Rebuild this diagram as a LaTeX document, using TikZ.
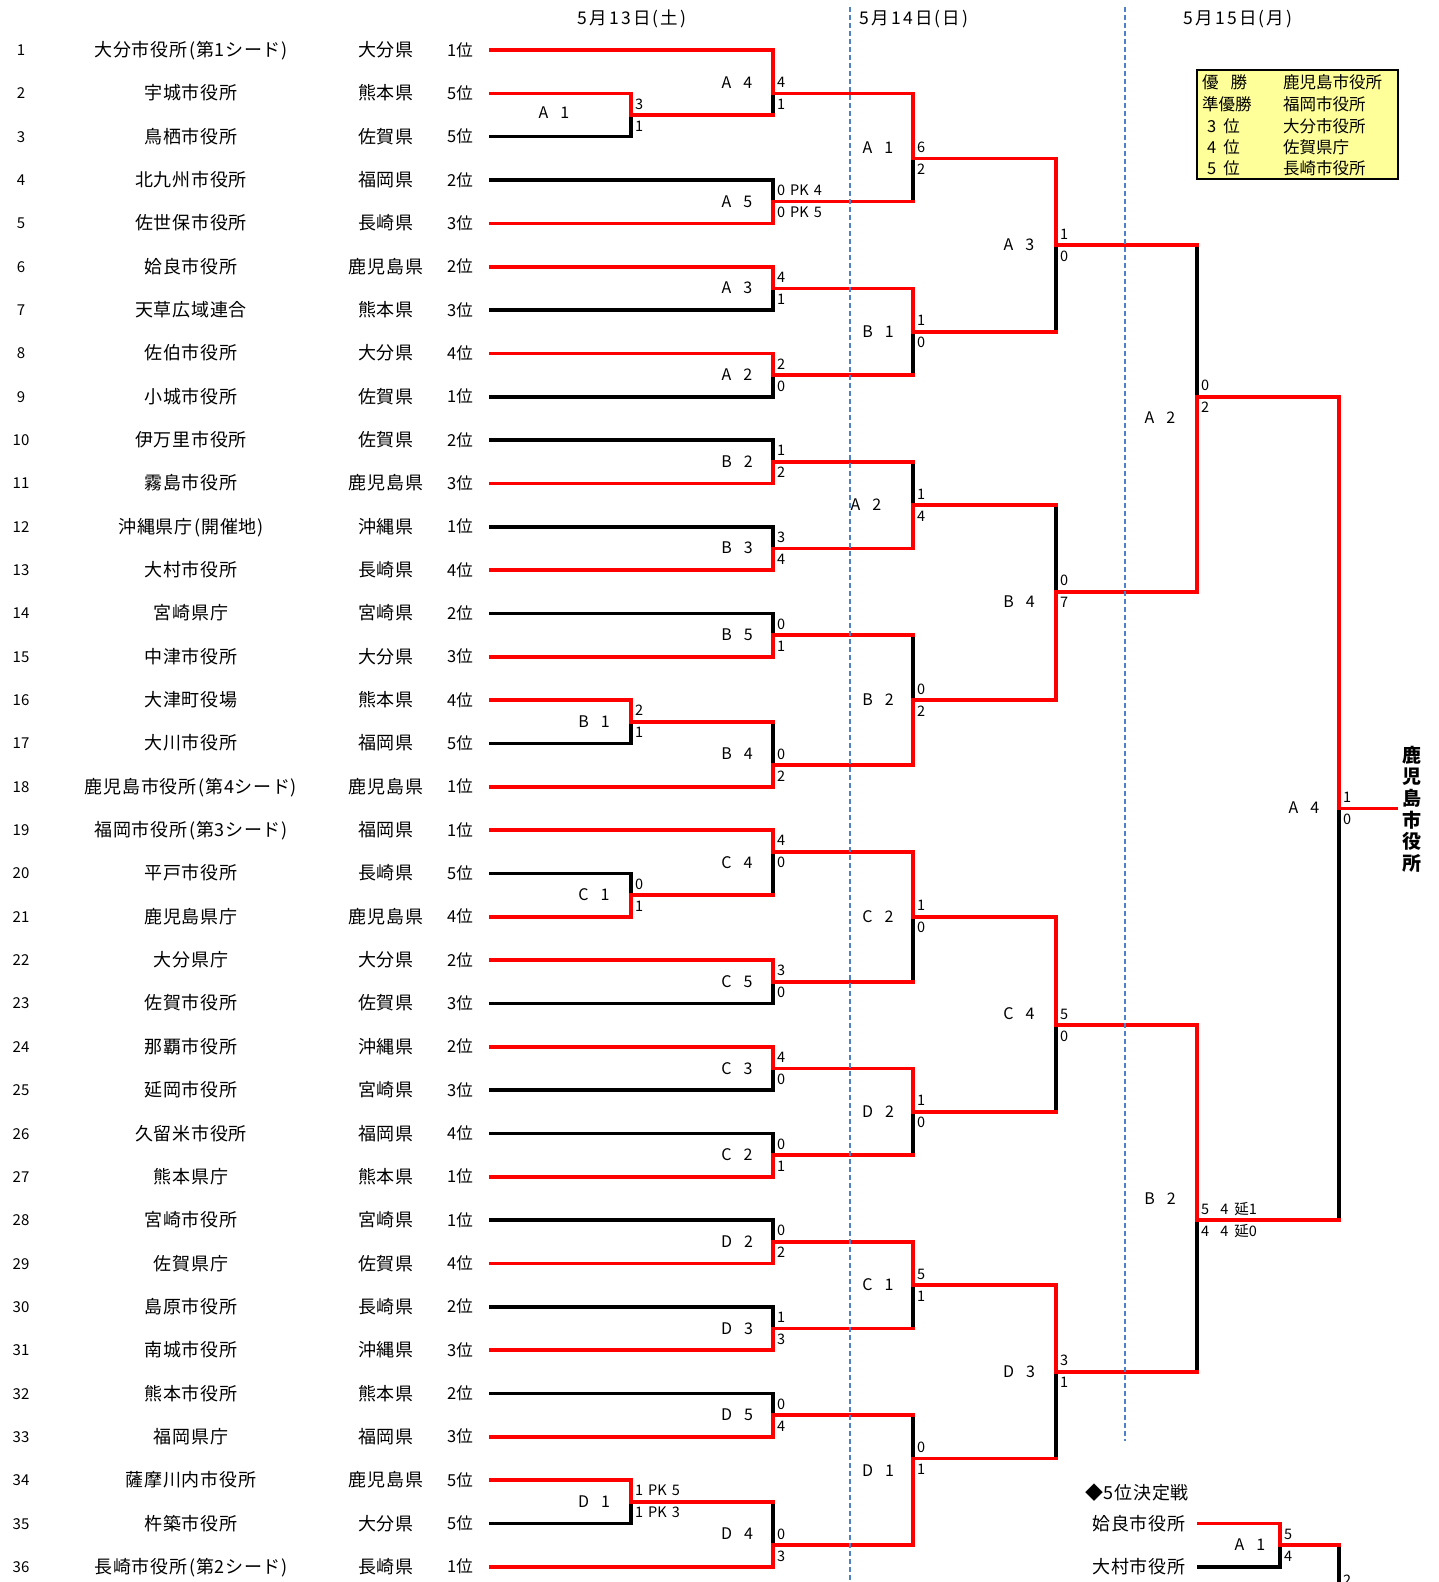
\documentclass[tikz,border=0pt]{standalone}
\usepackage{fontspec}
\setmainfont{Noto Sans CJK JP}
\newfontfamily\namefont{Noto Sans CJK JP}[LetterSpace=4]
\newfontfamily\datefont{Noto Sans CJK JP}[LetterSpace=12]
\definecolor{bred}{RGB}{255,0,0}
\definecolor{dblue}{RGB}{79,129,199}
\definecolor{lyel}{RGB}{255,255,153}
\pgfdeclarelayer{blk}
\pgfdeclarelayer{rd}
\pgfdeclarelayer{dsh}
\pgfsetlayers{blk,rd,dsh,main}
\pgfmathdeclarefunction{ry}{1}{\pgfmathparse{50+(#1-1)*43.34}}
\newcommand{\po}{\hspace{2pt}(}
\newcommand{\pc}{)\hspace{2pt}}
\tikzset{
  blkline/.style={line width=3.6pt, black, line cap=rect},
  redline/.style={line width=3.6pt, bred, line cap=rect},
  sc/.style={anchor=base west, inner sep=0pt, font=\fontsize{14.5}{14.5}\selectfont},
  lbl/.style={anchor=base, inner sep=0pt, font=\fontsize{16}{16}\selectfont},
  nm/.style={anchor=base, inner sep=0pt, font=\namefont\fontsize{18}{18}\selectfont},
  numtxt/.style={anchor=base, inner sep=0pt, font=\fontsize{15}{15}\selectfont},
  rk/.style={anchor=base west, inner sep=0pt, font=\fontsize{16.5}{16.5}\selectfont},
  datetxt/.style={anchor=base, inner sep=0pt, font=\datefont\fontsize{17.5}{17.5}\selectfont},
  lgd/.style={anchor=base west, inner sep=0pt, font=\fontsize{16.5}{16.5}\selectfont},
  dashln/.style={dblue, line width=1.8pt, dash pattern=on 5pt off 3pt},
}
% #1 x, #2 rTop, #3 rBot, #4 rOut, #5 winner (1 top, 2 bottom), #6 next x, #7 top score, #8 bottom score
\newcommand{\bkmatch}[8]{%
  \pgfmathsetmacro\yT{ry(#2)}\pgfmathsetmacro\yB{ry(#3)}\pgfmathsetmacro\yO{ry(#4)}%
  \ifnum#5=1
    \begin{pgfonlayer}{rd}\draw[redline] (#1,\yT) -- (#1,\yO);\end{pgfonlayer}%
    \begin{pgfonlayer}{blk}\draw[blkline] (#1,\yO) -- (#1,\yB);\end{pgfonlayer}%
  \else
    \begin{pgfonlayer}{blk}\draw[blkline] (#1,\yT) -- (#1,\yO);\end{pgfonlayer}%
    \begin{pgfonlayer}{rd}\draw[redline] (#1,\yO) -- (#1,\yB);\end{pgfonlayer}%
  \fi
  \begin{pgfonlayer}{rd}\draw[redline] (#1,\yO) -- (#6,\yO);\end{pgfonlayer}%
  \node[sc] at ({#1+4},{\yO-6}) {#7};%
  \node[sc] at ({#1+4},{\yO+16}) {#8};%
}
% #1 row, #2 name, #3 pref, #4 rank, #5 end x, #6 colour 1 red 0 black
\newcommand{\bkentry}[6]{%
  \pgfmathsetmacro\yE{ry(#1)}%
  \ifnum#6=1
    \begin{pgfonlayer}{rd}\draw[redline] (491,\yE) -- (#5,\yE);\end{pgfonlayer}%
  \else
    \begin{pgfonlayer}{blk}\draw[blkline] (491,\yE) -- (#5,\yE);\end{pgfonlayer}%
  \fi
  \node[numtxt] at (21,{\yE+5.5}) {#1};%
  \node[nm] at (191,{\yE+6.5}) {#2};%
  \node[nm] at (386,{\yE+6.5}) {#3};%
  \node[rk] at (447,{\yE+6}) {#4};%
}
% #1 x centre, #2 r, #3 letter, #4 digit
\newcommand{\bklab}[4]{%
  \pgfmathsetmacro\yL{ry(#2)}%
  \node[lbl] at (#1,{\yL+5.5}) {#3\hspace{12pt}#4};%
}
\begin{document}
\begin{tikzpicture}[x=1pt,y=-1pt]
\useasboundingbox (0,0) rectangle (1439,1582);

% dates
\node[datetxt] (d13) at (632,24.5) {5月13日\po 土\pc};
\node[datetxt] (d14) at (914,24.5) {5月14日\po 日\pc};
\node[datetxt] (d15) at (1238,24.5) {5月15日\po 月\pc};

% day separators
\begin{pgfonlayer}{dsh}
\draw[dashln] (850,7) -- (850,1590);
\draw[dashln] (1125,7) -- (1125,1441);
\end{pgfonlayer}

% entries
\bkentry{1}{大分市役所\po 第1シード\pc}{大分県}{1位}{773}{1}
\bkentry{2}{宇城市役所}{熊本県}{5位}{631}{1}
\bkentry{3}{鳥栖市役所}{佐賀県}{5位}{631}{0}
\bkentry{4}{北九州市役所}{福岡県}{2位}{773}{0}
\bkentry{5}{佐世保市役所}{長崎県}{3位}{773}{1}
\bkentry{6}{姶良市役所}{鹿児島県}{2位}{773}{1}
\bkentry{7}{天草広域連合}{熊本県}{3位}{773}{0}
\bkentry{8}{佐伯市役所}{大分県}{4位}{773}{1}
\bkentry{9}{小城市役所}{佐賀県}{1位}{773}{0}
\bkentry{10}{伊万里市役所}{佐賀県}{2位}{773}{0}
\bkentry{11}{霧島市役所}{鹿児島県}{3位}{773}{1}
\bkentry{12}{沖縄県庁\po 開催地\pc}{沖縄県}{1位}{773}{0}
\bkentry{13}{大村市役所}{長崎県}{4位}{773}{1}
\bkentry{14}{宮崎県庁}{宮崎県}{2位}{773}{0}
\bkentry{15}{中津市役所}{大分県}{3位}{773}{1}
\bkentry{16}{大津町役場}{熊本県}{4位}{631}{1}
\bkentry{17}{大川市役所}{福岡県}{5位}{631}{0}
\bkentry{18}{鹿児島市役所\po 第4シード\pc}{鹿児島県}{1位}{773}{1}
\bkentry{19}{福岡市役所\po 第3シード\pc}{福岡県}{1位}{773}{1}
\bkentry{20}{平戸市役所}{長崎県}{5位}{631}{0}
\bkentry{21}{鹿児島県庁}{鹿児島県}{4位}{631}{1}
\bkentry{22}{大分県庁}{大分県}{2位}{773}{1}
\bkentry{23}{佐賀市役所}{佐賀県}{3位}{773}{0}
\bkentry{24}{那覇市役所}{沖縄県}{2位}{773}{1}
\bkentry{25}{延岡市役所}{宮崎県}{3位}{773}{0}
\bkentry{26}{久留米市役所}{福岡県}{4位}{773}{0}
\bkentry{27}{熊本県庁}{熊本県}{1位}{773}{1}
\bkentry{28}{宮崎市役所}{宮崎県}{1位}{773}{0}
\bkentry{29}{佐賀県庁}{佐賀県}{4位}{773}{1}
\bkentry{30}{島原市役所}{長崎県}{2位}{773}{0}
\bkentry{31}{南城市役所}{沖縄県}{3位}{773}{1}
\bkentry{32}{熊本市役所}{熊本県}{2位}{773}{0}
\bkentry{33}{福岡県庁}{福岡県}{3位}{773}{1}
\bkentry{34}{薩摩川内市役所}{鹿児島県}{5位}{631}{1}
\bkentry{35}{杵築市役所}{大分県}{5位}{631}{0}
\bkentry{36}{長崎市役所\po 第2シード\pc}{長崎県}{1位}{773}{1}

% 5/13 matches
\bkmatch{631}{2}{3}{2.5}{1}{773}{3}{1}
\bkmatch{773}{1}{2.5}{2}{1}{913}{4}{1}
\bkmatch{773}{4}{5}{4.5}{2}{913}{0\hspace{5pt}PK\hspace{5pt}4}{0\hspace{5pt}PK\hspace{5pt}5}
\bkmatch{773}{6}{7}{6.5}{1}{913}{4}{1}
\bkmatch{773}{8}{9}{8.5}{1}{913}{2}{0}
\bkmatch{773}{10}{11}{10.5}{2}{913}{1}{2}
\bkmatch{773}{12}{13}{12.5}{2}{913}{3}{4}
\bkmatch{773}{14}{15}{14.5}{2}{913}{0}{1}
\bkmatch{631}{16}{17}{16.5}{1}{773}{2}{1}
\bkmatch{773}{16.5}{18}{17.5}{2}{913}{0}{2}
\bkmatch{631}{20}{21}{20.5}{2}{773}{0}{1}
\bkmatch{773}{19}{20.5}{19.5}{1}{913}{4}{0}
\bkmatch{773}{22}{23}{22.5}{1}{913}{3}{0}
\bkmatch{773}{24}{25}{24.5}{1}{913}{4}{0}
\bkmatch{773}{26}{27}{26.5}{2}{913}{0}{1}
\bkmatch{773}{28}{29}{28.5}{2}{913}{0}{2}
\bkmatch{773}{30}{31}{30.5}{2}{913}{1}{3}
\bkmatch{773}{32}{33}{32.5}{2}{913}{0}{4}
\bkmatch{631}{34}{35}{34.5}{1}{773}{1\hspace{5pt}PK\hspace{5pt}5}{1\hspace{5pt}PK\hspace{5pt}3}
\bkmatch{773}{34.5}{36}{35.5}{2}{913}{0}{3}
% 5/14 matches
\bkmatch{913}{2}{4.5}{3.5}{1}{1056}{6}{2}
\bkmatch{913}{6.5}{8.5}{7.5}{1}{1056}{1}{0}
\bkmatch{913}{10.5}{12.5}{11.5}{2}{1056}{1}{4}
\bkmatch{913}{14.5}{17.5}{16}{2}{1056}{0}{2}
\bkmatch{913}{19.5}{22.5}{21}{1}{1056}{1}{0}
\bkmatch{913}{24.5}{26.5}{25.5}{1}{1056}{1}{0}
\bkmatch{913}{28.5}{30.5}{29.5}{1}{1056}{5}{1}
\bkmatch{913}{32.5}{35.5}{33.5}{2}{1056}{0}{1}
\bkmatch{1056}{3.5}{7.5}{5.5}{1}{1197}{1}{0}
\bkmatch{1056}{11.5}{16}{13.5}{2}{1197}{0}{7}
\bkmatch{1056}{21}{25.5}{23.5}{1}{1197}{5}{0}
\bkmatch{1056}{29.5}{33.5}{31.5}{1}{1197}{3}{1}
% 5/15 matches
\bkmatch{1197}{5.5}{13.5}{9}{2}{1339}{0}{2}
\bkmatch{1197}{23.5}{31.5}{28}{1}{1339}{5\hspace{11pt}4\hspace{6pt}延1}{4\hspace{11pt}4\hspace{6pt}延0}
\bkmatch{1339}{9}{28}{18.5}{1}{1396}{1}{0}

% match labels
\bklab{554}{2.45}{A}{1}
\bklab{594}{16.5}{B}{1}
\bklab{594}{20.5}{C}{1}
\bklab{594}{34.5}{D}{1}
\bklab{737}{1.75}{A}{4}
\bklab{737}{4.5}{A}{5}
\bklab{737}{6.5}{A}{3}
\bklab{737}{8.5}{A}{2}
\bklab{737}{10.5}{B}{2}
\bklab{737}{12.5}{B}{3}
\bklab{737}{14.5}{B}{5}
\bklab{737}{17.25}{B}{4}
\bklab{737}{19.75}{C}{4}
\bklab{737}{22.5}{C}{5}
\bklab{737}{24.5}{C}{3}
\bklab{737}{26.5}{C}{2}
\bklab{737}{28.5}{D}{2}
\bklab{737}{30.5}{D}{3}
\bklab{737}{32.5}{D}{5}
\bklab{737}{35.25}{D}{4}
\bklab{878}{3.25}{A}{1}
\bklab{878}{7.5}{B}{1}
\bklab{866}{11.5}{A}{2}
\bklab{878}{16}{B}{2}
\bklab{878}{21}{C}{2}
\bklab{878}{25.5}{D}{2}
\bklab{878}{29.5}{C}{1}
\bklab{878}{33.78}{D}{1}
\bklab{1019}{5.5}{A}{3}
\bklab{1019}{13.73}{B}{4}
\bklab{1019}{23.25}{C}{4}
\bklab{1019}{31.5}{D}{3}
\bklab{1160}{9.5}{A}{2}
\bklab{1160}{27.5}{B}{2}
\bklab{1304}{18.5}{A}{4}

% champion
\node[anchor=center, inner sep=0pt, align=center, font=\bfseries\fontsize{19}{21.6}\selectfont] (champ) at (1412,809) {鹿\\児\\島\\市\\役\\所};

% result table
\draw[fill=lyel, line width=2.5pt] (1197,70) rectangle (1398,179);
\node[lgd] (l1a) at (1202,88) {優\hspace{12pt}勝};
\node[lgd] (l1b) at (1283,88) {鹿児島市役所};
\node[lgd] (l2a) at (1202,110) {準優勝};
\node[lgd] (l2b) at (1283,110) {福岡市役所};
\node[lgd] (l3a) at (1207,132) {3\hspace{7pt}位};
\node[lgd] (l3b) at (1283,132) {大分市役所};
\node[lgd] (l4a) at (1207,153) {4\hspace{7pt}位};
\node[lgd] (l4b) at (1283,153) {佐賀県庁};
\node[lgd] (l5a) at (1207,174) {5\hspace{7pt}位};
\node[lgd] (l5b) at (1283,174) {長崎市役所};

% 5th place play-off
\node[nm, anchor=base west] (fifth) at (1085,1499.5) {◆5位決定戦};
\pgfmathsetmacro\yA{ry(35)}\pgfmathsetmacro\yBB{ry(36)}\pgfmathsetmacro\yM{ry(35.5)}
\node[nm] (aira) at (1139,{\yA+6.5}) {姶良市役所};
\node[nm] (omura) at (1139,{\yBB+6.5}) {大村市役所};
\begin{pgfonlayer}{rd}
\draw[redline] (1199,\yA) -- (1280,\yA);
\end{pgfonlayer}
\begin{pgfonlayer}{blk}
\draw[blkline] (1199,\yBB) -- (1280,\yBB);
\draw[blkline] (1339,\yM) -- (1339,1600);
\end{pgfonlayer}
\bkmatch{1280}{35}{36}{35.5}{1}{1339}{5}{4}
\node[lbl] at (1250,{\yM+5.5}) {A\hspace{12pt}1};
\node[sc] at (1343,1585) {2};
\end{tikzpicture}
\end{document}
